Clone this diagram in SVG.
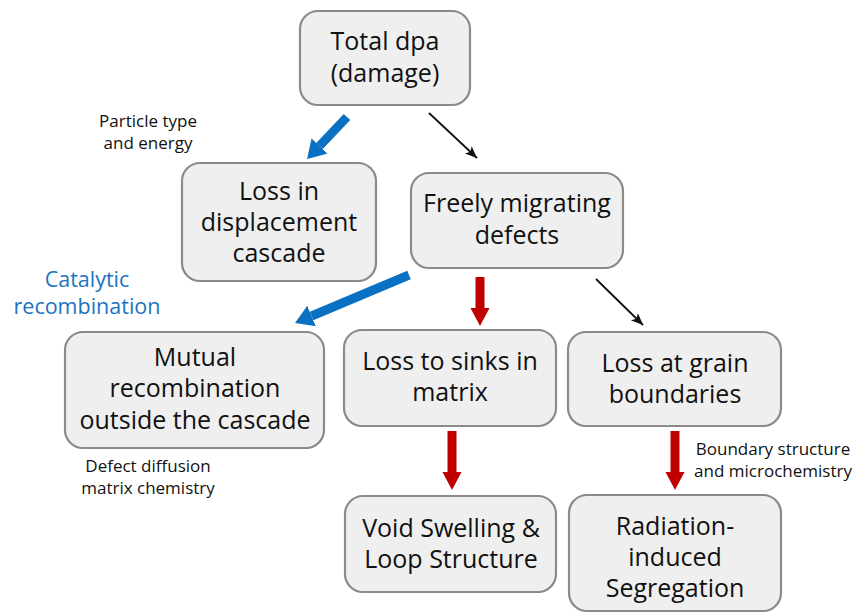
<svg xmlns="http://www.w3.org/2000/svg" width="860" height="613" viewBox="0 0 860 613">
<style>
.box{fill:#efefef;stroke:#8a8a8a;stroke-width:2.2}
.t{font-family:"Open Sans","DejaVu Sans",sans-serif;font-size:25px;fill:#111;text-anchor:middle}
.s{font-family:"Open Sans","DejaVu Sans",sans-serif;font-size:17px;fill:#111;text-anchor:middle}
.c{font-family:"Open Sans","DejaVu Sans",sans-serif;font-size:21.5px;fill:#1a73c0;text-anchor:middle}
.blue{stroke:#0a70c2;stroke-width:9;fill:none}
.red{stroke:#c00000;stroke-width:9;fill:none}
.blk{stroke:#111;stroke-width:1.8;fill:none}
</style>
<defs>
<marker id="hb" markerUnits="userSpaceOnUse" markerWidth="20" markerHeight="24" refX="0" refY="11" orient="auto"><path d="M0,0 L18,11 L0,22 z" fill="#0a70c2"/></marker>
<marker id="hr" markerUnits="userSpaceOnUse" markerWidth="20" markerHeight="22" refX="0" refY="9.5" orient="auto"><path d="M0,0 L18,9.5 L0,19 z" fill="#c00000"/></marker>
<marker id="hk" markerUnits="userSpaceOnUse" markerWidth="14" markerHeight="12" refX="12" refY="5" orient="auto"><path d="M0,0 L12,5 L0,10 L3,5 z" fill="#111"/></marker>
</defs>
<g id="connectors">
<line class="blue" x1="347" y1="117" x2="319.5" y2="146" marker-end="url(#hb)"/>
<line class="blk" x1="429" y1="113" x2="477" y2="158" marker-end="url(#hk)"/>
<line class="blue" x1="409" y1="275" x2="311.6" y2="316" marker-end="url(#hb)"/>
<line class="red" x1="480" y1="277" x2="480" y2="308" marker-end="url(#hr)"/>
<line class="blk" x1="596" y1="279" x2="643" y2="325" marker-end="url(#hk)"/>
<line class="red" x1="452" y1="431" x2="452" y2="472" marker-end="url(#hr)"/>
<line class="red" x1="675" y1="431" x2="675" y2="472" marker-end="url(#hr)"/>
</g>
<g id="n1"><rect class="box" x="300" y="11" width="170" height="94" rx="18"/><text class="t" x="385" y="50">Total dpa</text><text class="t" x="385" y="82">(damage)</text></g>
<g id="n2"><rect class="box" x="182" y="163" width="194" height="118" rx="18"/><text class="t" x="279" y="200">Loss in</text><text class="t" x="279" y="231">displacement</text><text class="t" x="279" y="262">cascade</text></g>
<g id="n3"><rect class="box" x="411" y="173" width="212" height="95" rx="18"/><text class="t" x="517" y="212">Freely migrating</text><text class="t" x="517" y="244">defects</text></g>
<g id="n4"><rect class="box" x="65" y="332" width="259" height="116" rx="18"/><text class="t" x="195" y="366">Mutual</text><text class="t" x="195" y="397">recombination</text><text class="t" x="195" y="429">outside the cascade</text></g>
<g id="n5"><rect class="box" x="344" y="330" width="212" height="96" rx="18"/><text class="t" x="450" y="370">Loss to sinks in</text><text class="t" x="450" y="401">matrix</text></g>
<g id="n6"><rect class="box" x="568" y="332" width="213" height="94" rx="18"/><text class="t" x="675" y="372">Loss at grain</text><text class="t" x="675" y="403">boundaries</text></g>
<g id="n7"><rect class="box" x="345" y="496" width="211" height="96" rx="18"/><text class="t" x="451" y="537">Void Swelling &amp;</text><text class="t" x="451" y="568">Loop Structure</text></g>
<g id="n8"><rect class="box" x="569" y="495" width="212" height="116" rx="18"/><text class="t" x="675" y="535">Radiation-</text><text class="t" x="675" y="566">induced</text><text class="t" x="675" y="597">Segregation</text></g>
<g id="labels">
<text class="s" x="148" y="127">Particle type</text><text class="s" x="148" y="149">and energy</text>
<text class="c" x="87" y="287">Catalytic</text><text class="c" x="87" y="314">recombination</text>
<text class="s" x="148" y="472">Defect diffusion</text><text class="s" x="148" y="494">matrix chemistry</text>
<text class="s" x="773" y="455">Boundary structure</text><text class="s" x="773" y="477">and microchemistry</text>
</g>
</svg>
